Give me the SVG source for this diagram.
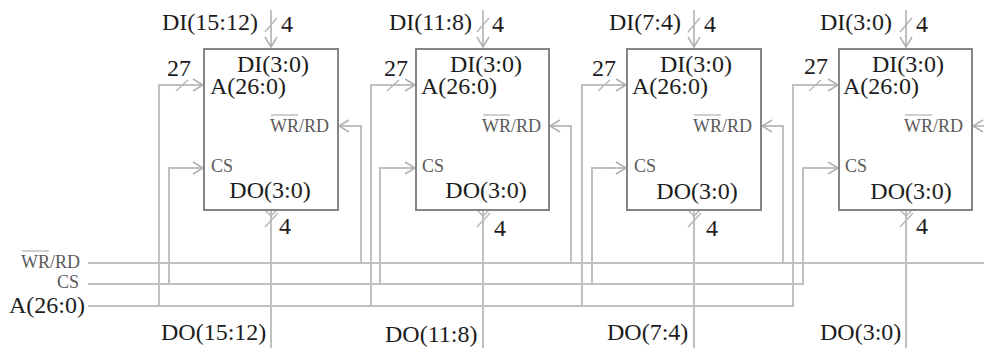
<svg xmlns="http://www.w3.org/2000/svg" width="984" height="351" viewBox="0 0 984 351">
<style>
text{font-family:"Liberation Serif","Times New Roman",serif;fill:#1c1c1c;font-size:24px}
.m{text-anchor:middle}
.s{font-size:18px;fill:#5a5a5a;stroke:none}
.w{fill:none;stroke:#c0c0c0;stroke-width:2}
.t{fill:none;stroke:#b8b8b8;stroke-width:1.5}
.b{fill:#fff;stroke:#858585;stroke-width:2}
.o{stroke:#a0a0a0;stroke-width:1;fill:none}
</style>
<defs>
<marker id="ah" markerUnits="userSpaceOnUse" markerWidth="14" markerHeight="14" refX="11" refY="7" orient="auto"><path d="M1 1L11 7L1 13" fill="none" stroke="#b0b0b0" stroke-width="1.5"/></marker>
</defs>
<g id="connectors">
<path class="w" d="M88 263H984M88 284H803V168H838M88 306H793V85H838"/>
<path class="w" d="M159 306V85H203" marker-end="url(#ah)"/>
<path class="w" d="M169 284V168H203" marker-end="url(#ah)"/>
<path class="w" d="M371 306V85H415" marker-end="url(#ah)"/>
<path class="w" d="M380 284V168H415" marker-end="url(#ah)"/>
<path class="w" d="M582 306V85H626" marker-end="url(#ah)"/>
<path class="w" d="M592 284V168H626" marker-end="url(#ah)"/>
<path class="w" d="M793 85H838" marker-end="url(#ah)"/>
<path class="w" d="M803 168H838" marker-end="url(#ah)"/>
<path class="w" d="M361 263V126H339" marker-end="url(#ah)"/>
<path class="w" d="M571 263V126H550" marker-end="url(#ah)"/>
<path class="w" d="M783 263V126H762" marker-end="url(#ah)"/>
<path class="w" d="M984 126H973" marker-end="url(#ah)"/>
<path class="w" d="M271 10V47" marker-end="url(#ah)"/>
<path class="w" d="M483 10V47" marker-end="url(#ah)"/>
<path class="w" d="M694 10V47" marker-end="url(#ah)"/>
<path class="w" d="M906 10V47" marker-end="url(#ah)"/>
<path class="w" d="M271 348V211M483 348V211M694 348V211M906 348V211"/>
<path class="t" d="M265 32L277 18M477 32L489 18M688 32L700 18M900 32L912 18M176 91L188 80M387 91L399 80M598 91L610 80M809 91L821 80M265 227L278 213M477 227L490 213M688 227L701 213M900 227L913 213"/>
<path class="t" d="M265 210L271 216L277 210M477 210L483 216L489 210M688 210L694 216L700 210M900 210L906 216L912 210"/>
</g>
<g id="node-1">
<rect class="b" x="204" y="49" width="134" height="161"/>
<text class="m" x="273" y="72">DI(3:0)</text>
<text x="210" y="94">A(26:0)</text>
<text class="s" x="270" y="132">WR/RD</text><path class="o" d="M271 115H298"/>
<text class="s" x="211" y="172">CS</text>
<text class="m" x="270" y="198">DO(3:0)</text>
</g>
<g id="node-2">
<rect class="b" x="416" y="49" width="133" height="161"/>
<text class="m" x="486" y="72">DI(3:0)</text>
<text x="421" y="94">A(26:0)</text>
<text class="s" x="482" y="132">WR/RD</text><path class="o" d="M483 115H510"/>
<text class="s" x="422" y="172">CS</text>
<text class="m" x="486" y="198">DO(3:0)</text>
</g>
<g id="node-3">
<rect class="b" x="627" y="49" width="134" height="161"/>
<text class="m" x="696" y="72">DI(3:0)</text>
<text x="632" y="94">A(26:0)</text>
<text class="s" x="693" y="132">WR/RD</text><path class="o" d="M694 115H721"/>
<text class="s" x="634" y="172">CS</text>
<text class="m" x="697" y="199">DO(3:0)</text>
</g>
<g id="node-4">
<rect class="b" x="839" y="49" width="133" height="161"/>
<text class="m" x="908" y="72">DI(3:0)</text>
<text x="843" y="94">A(26:0)</text>
<text class="s" x="904" y="132">WR/RD</text><path class="o" d="M905 115H932"/>
<text class="s" x="845" y="172">CS</text>
<text class="m" x="911" y="199">DO(3:0)</text>
</g>
<g id="labels">
<text x="162" y="30">DI(15:12)</text>
<text x="389" y="30">DI(11:8)</text>
<text x="609" y="30">DI(7:4)</text>
<text x="820" y="30">DI(3:0)</text>
<text x="281" y="32">4</text>
<text x="492" y="32">4</text>
<text x="704" y="32">4</text>
<text x="916" y="32">4</text>
<text x="167" y="76">27</text>
<text x="384" y="76">27</text>
<text x="592" y="76">27</text>
<text x="804" y="74">27</text>
<text x="279" y="234">4</text>
<text x="494" y="236">4</text>
<text x="706" y="236">4</text>
<text x="916" y="234">4</text>
<text x="161" y="340">DO(15:12)</text>
<text x="385" y="342">DO(11:8)</text>
<text x="607" y="340">DO(7:4)</text>
<text x="820" y="340">DO(3:0)</text>
<text class="s" x="21" y="268">WR/RD</text><path class="o" d="M22 251H49"/>
<text class="s" x="57" y="288">CS</text>
<text x="9" y="313">A(26:0)</text>
</g>
</svg>
